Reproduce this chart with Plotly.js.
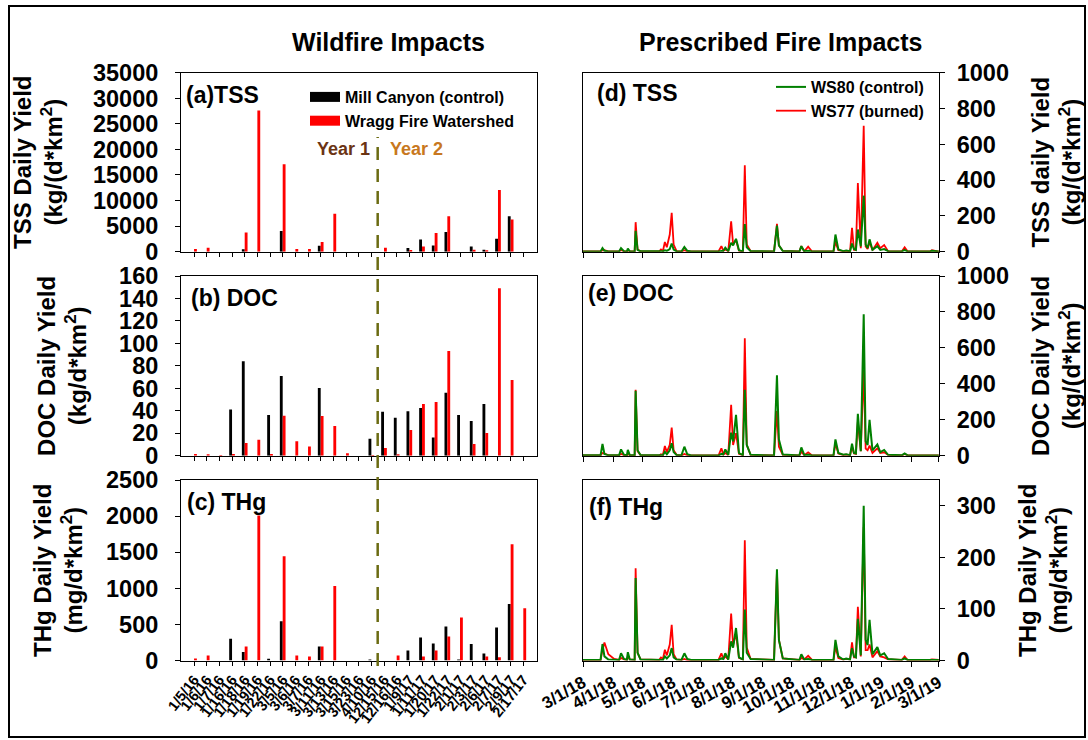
<!DOCTYPE html>
<html><head><meta charset="utf-8">
<script src="https://cdn.plot.ly/plotly-3.0.1.min.js"></script>
<style>
html,body{margin:0;padding:0;background:#fff;}
#wrap{position:relative;width:1088px;height:740px;}
#chart{width:1088px;height:740px;}
#frame{position:absolute;left:8px;top:5px;width:1078px;height:733px;border:2px solid #000;pointer-events:none;box-sizing:border-box;}
</style></head>
<body><div id="wrap"><div id="chart"></div><div id="frame"></div></div>
<script>
// ---------- Wildfire (left) bar data ----------
const sampleDates = ['1/5/16','1/6/16','1/7/16','1/16/16','1/18/16','1/19/16','1/22/16','3/5/16','3/6/16','3/7/16','3/11/16','3/13/16','3/15/16','3/23/16','4/10/16','12/15/16','12/16/16','1/9/17','1/11/17','1/20/17','1/22/17','2/1/17','2/3/17','2/6/17','2/7/17','2/9/17','2/17/17'];
const millTSS  = [0,0,0,0,500,0,0,4030,0,0,1170,0,0,0,0,0,0,710,2400,1230,3830,0,1040,390,2530,6950,0];
const wraggTSS = [520,780,0,0,3770,27600,0,17080,520,520,1880,7400,0,0,0,780,0,320,1040,3640,6950,0,390,260,12080,6300,0];
const millDOC  = [0,0,0,41.2,84,0,36.2,70.9,0,0,60.2,0,0,0,15.1,39.2,33.8,39.5,42.4,16.3,56.1,36.2,30.9,46,0,0,0];
const wraggDOC = [1.5,1.2,0.6,1.5,11.3,14.2,1.5,35.6,12.8,8.3,35.3,26.4,2.1,0,0.6,6.8,1.2,22.8,46,47.8,93.2,0,10.4,20.2,149,67.4,0];
const millTHg  = [0,0,0,301,116,0,23,542,0,0,194,0,0,0,14,0,0,139,319,236,472,14,227,97,458,782,0];
const wraggTHg = [28,69,0,0,194,2009,0,1444,69,56,194,1032,0,0,0,0,69,0,56,139,333,597,0,56,46,1611,722];

// ---------- Prescribed fire (right) time series ----------
const rxDates = ['2018-03-01','2018-03-19','2018-03-21','2018-03-23','2018-03-27','2018-04-02','2018-04-07','2018-04-09','2018-04-12','2018-04-15','2018-04-16','2018-04-18','2018-04-23','2018-04-24','2018-04-26','2018-04-29','2018-05-18','2018-05-20','2018-05-22','2018-05-24','2018-05-26','2018-05-29','2018-05-31','2018-06-02','2018-06-05','2018-06-10','2018-06-13','2018-06-16','2018-06-20','2018-07-18','2018-07-21','2018-07-23','2018-07-25','2018-07-28','2018-07-31','2018-08-02','2018-08-05','2018-08-08','2018-08-12','2018-08-14','2018-08-16','2018-08-20','2018-09-13','2018-09-16','2018-09-18','2018-09-22','2018-10-09','2018-10-11','2018-10-14','2018-10-18','2018-10-22','2018-11-13','2018-11-15','2018-11-18','2018-11-23','2018-11-26','2018-11-30','2018-12-02','2018-12-04','2018-12-06','2018-12-08','2018-12-11','2018-12-14','2018-12-16','2018-12-18','2018-12-20','2018-12-23','2018-12-28','2018-12-31','2019-01-04','2019-01-08','2019-01-22','2019-01-25','2019-01-28','2019-02-20','2019-02-22','2019-03-01'];
const ws80TSS = [1,1,20,5,1,1,1,20,3,1,17,2,1,117,10,2,1,3,2,8,5,15,46,12,2,1,26,5,1,1,5,5,22,3,50,35,72,8,2,154,25,3,1,146,35,4,1,31,2,5,1,1,96,12,3,6,2,46,15,10,124,30,313,40,20,69,10,31,10,15,3,1,10,1,1,5,1];
const ws77TSS = [1,1,8,8,2,1,1,10,2,1,8,2,1,165,12,2,1,13,4,54,25,96,217,40,3,1,8,2,1,1,31,5,12,3,170,40,65,5,2,483,40,3,1,156,35,4,1,31,2,28,1,1,54,8,3,5,2,133,10,10,383,20,704,30,15,54,8,50,20,37,3,1,24,2,1,8,1];
const ws80DOC = [2,2,65,10,2,1,2,35,5,2,32,3,2,361,30,4,1,4,3,22,8,30,69,20,4,2,50,8,1,1,10,8,35,5,128,80,227,15,3,367,60,5,1,448,90,6,1,46,4,5,1,2,91,15,5,8,3,67,15,12,233,25,787,80,60,199,30,63,20,32,5,2,13,2,1,3,1];
const ws77DOC = [2,2,15,10,3,1,1,10,3,1,10,2,2,367,25,3,1,8,4,54,20,60,156,30,5,1,10,3,1,1,41,6,15,4,283,60,125,10,3,653,60,4,1,249,50,5,1,22,3,19,1,1,69,12,4,6,3,50,12,10,190,25,478,40,30,56,15,41,15,19,4,1,10,2,1,3,1];
const ws80THg = [1,1,32,8,2,1,1,14,3,1,16,2,1,160,15,2,1,2,1,8,4,10,24,6,2,1,14,3,1,1,4,3,14,2,37,25,63,6,2,99,15,3,1,177,40,4,1,12,2,3,1,1,40,8,2,4,2,24,8,6,81,10,300,40,30,79,12,26,10,14,3,1,4,1,1,2,1];
const ws77THg = [1,1,20,35,12,3,1,5,2,1,8,2,1,179,15,2,1,6,3,21,10,31,69,12,2,1,3,1,1,1,14,3,8,2,91,30,53,5,2,233,25,3,1,173,40,4,1,5,2,9,1,1,27,5,2,3,2,35,6,6,104,8,259,20,20,31,6,18,8,6,2,1,8,1,1,2,1];

// ---------- layout helpers ----------
const W = 1088, H = 740;
const px = v => v / W;
const py = v => 1 - v / H;
const FAM = 'Liberation Sans, Arial, sans-serif';
const bold = (size, color) => ({family: FAM, size: size, color: color || '#000', weight: 700});

const leftX = [px(181), px(537)];
const rightX = [px(583), px(939)];
const rows = [[72.7, 251.7], [276, 455.7], [480, 660.5]];

function catAxis(anchor, showLabels) {
  return {
    type: 'category', domain: leftX, anchor: anchor,
    range: [-1.03, 27.08], tickmode: 'array', tickvals: sampleDates, ticktext: sampleDates,
    ticks: 'outside', ticklen: 4, tickwidth: 1, tickcolor: '#000',
    showticklabels: showLabels, tickangle: -52, tickfont: bold(14.5),
    showline: true, linecolor: '#000', linewidth: 1, mirror: true,
    showgrid: false, zeroline: false
  };
}
function dateAxis(anchor, showLabels) {
  return {
    type: 'date', domain: rightX, anchor: anchor,
    range: ['2018-03-01', '2019-03-01 06:00'], tick0: '2018-03-01', dtick: 'M1',
    tickformat: '%-m/%-d/%y',
    ticks: 'outside', ticklen: 5, tickwidth: 1, tickcolor: '#000',
    showticklabels: showLabels, tickangle: -30, tickfont: bold(17),
    showline: true, linecolor: '#000', linewidth: 1, mirror: true,
    showgrid: false, zeroline: false
  };
}
function valAxis(anchor, row, range, dtick, side, title, standoff) {
  return {
    domain: [py(row[1]), py(row[0])], anchor: anchor, side: side,
    range: range, dtick: dtick, tick0: 0, tickformat: 'd', exponentformat: 'none',
    ticks: 'outside', ticklen: 5, tickwidth: 1, tickcolor: '#000',
    tickfont: bold(23.5), ticklabelstandoff: side === 'left' ? 12 : 7,
    showline: true, linecolor: '#000', linewidth: 1, mirror: true,
    showgrid: false, zeroline: false,
    title: {text: title, font: bold(24), standoff: standoff}
  };
}

const data = [];
const barPairs = [[millTSS, wraggTSS, 'x', 'y'], [millDOC, wraggDOC, 'x2', 'y2'], [millTHg, wraggTHg, 'x3', 'y3']];
barPairs.forEach(p => {
  data.push({type: 'bar', x: sampleDates, y: p[0], xaxis: p[2], yaxis: p[3], marker: {color: '#000000'}, showlegend: false, name: 'Mill Canyon (control)'});
  data.push({type: 'bar', x: sampleDates, y: p[1], xaxis: p[2], yaxis: p[3], marker: {color: '#ff0000'}, showlegend: false, name: 'Wragg Fire Watershed'});
});
// legend entries for the bar series
data.push({type: 'scatter', mode: 'lines', x: [null], y: [null], xaxis: 'x', yaxis: 'y', line: {color: '#000000', width: 12}, name: 'Mill Canyon (control)', legend: 'legend'});
data.push({type: 'scatter', mode: 'lines', x: [null], y: [null], xaxis: 'x', yaxis: 'y', line: {color: '#ff0000', width: 12}, name: 'Wragg Fire Watershed', legend: 'legend'});

const linePairs = [[ws80TSS, ws77TSS, 'x4', 'y4', true], [ws80DOC, ws77DOC, 'x5', 'y5', false], [ws80THg, ws77THg, 'x6', 'y6', false]];
linePairs.forEach(p => {
  data.push({type: 'scatter', mode: 'lines', x: rxDates, y: p[1], xaxis: p[2], yaxis: p[3], line: {color: '#ff0000', width: 1.8}, name: 'WS77 (burned)', showlegend: p[4], legend: 'legend2', legendrank: 2});
  data.push({type: 'scatter', mode: 'lines', x: rxDates, y: p[0], xaxis: p[2], yaxis: p[3], line: {color: '#008000', width: 2}, name: 'WS80 (control)', showlegend: p[4], legend: 'legend2', legendrank: 1});
});

const layout = {
  width: W, height: H,
  margin: {l: 0, r: 0, t: 0, b: 0},
  paper_bgcolor: '#fff', plot_bgcolor: '#fff',
  font: {family: FAM, color: '#000'},
  barmode: 'group', bargap: 0.55, bargroupgap: 0,
  showlegend: true,
  legend: {x: px(305), y: py(80), xanchor: 'left', yanchor: 'top', bgcolor: 'rgba(0,0,0,0)', font: bold(16), tracegroupgap: 0, itemwidth: 30},
  legend2: {x: px(771), y: py(70), xanchor: 'left', yanchor: 'top', bgcolor: 'rgba(0,0,0,0)', font: bold(16), tracegroupgap: 0, itemwidth: 30},
  xaxis: catAxis('y', false),
  xaxis2: catAxis('y2', false),
  xaxis3: catAxis('y3', true),
  xaxis4: dateAxis('y4', false),
  xaxis5: dateAxis('y5', false),
  xaxis6: dateAxis('y6', true),
  yaxis: valAxis('x', rows[0], [0, 35000], 5000, 'left', 'TSS Daily Yield<br>(kg/(d*km<sup>2</sup>)', 23),
  yaxis2: valAxis('x2', rows[1], [0, 160], 20, 'left', 'DOC Daily Yield<br>(kg/d*km<sup>2</sup>)', 25),
  yaxis3: valAxis('x3', rows[2], [0, 2500], 500, 'left', 'THg Daily Yield<br>(mg/d*km<sup>2</sup>)', 16),
  yaxis4: valAxis('x4', rows[0], [0, 1000], 200, 'right', 'TSS daily Yield<br>(kg/(d*km<sup>2</sup>)', 24),
  yaxis5: valAxis('x5', rows[1], [0, 1000], 200, 'right', 'DOC Daily Yield<br>(kg/(d*km<sup>2</sup>)', 24),
  yaxis6: valAxis('x6', rows[2], [0, 350], 100, 'right', 'THg Daily Yield<br>(mg/d*km<sup>2</sup>)', 24),
  shapes: [
    {type: 'line', xref: 'x', yref: 'paper', x0: 14.5, x1: 14.5, y0: py(666), y1: py(137),
     line: {color: '#6b6b12', width: 2.5, dash: '13px,9px'}}
  ],
  annotations: [
    {text: 'Wildfire Impacts', xref: 'paper', yref: 'paper', x: px(388), y: py(42), xanchor: 'center', yanchor: 'middle', showarrow: false, font: bold(25)},
    {text: 'Prescribed Fire Impacts', xref: 'paper', yref: 'paper', x: px(780), y: py(42), xanchor: 'center', yanchor: 'middle', showarrow: false, font: bold(25)},
    {text: '(a)TSS', xref: 'paper', yref: 'paper', x: px(184), y: py(95), xanchor: 'left', yanchor: 'middle', showarrow: false, font: bold(23)},
    {text: '(b) DOC', xref: 'paper', yref: 'paper', x: px(189), y: py(298), xanchor: 'left', yanchor: 'middle', showarrow: false, font: bold(23)},
    {text: '(c) THg', xref: 'paper', yref: 'paper', x: px(185), y: py(502), xanchor: 'left', yanchor: 'middle', showarrow: false, font: bold(23)},
    {text: '(d) TSS', xref: 'paper', yref: 'paper', x: px(595), y: py(93), xanchor: 'left', yanchor: 'middle', showarrow: false, font: bold(23)},
    {text: '(e) DOC', xref: 'paper', yref: 'paper', x: px(586), y: py(293), xanchor: 'left', yanchor: 'middle', showarrow: false, font: bold(23)},
    {text: '(f) THg', xref: 'paper', yref: 'paper', x: px(587), y: py(507), xanchor: 'left', yanchor: 'middle', showarrow: false, font: bold(23)},
    {text: 'Year 1', xref: 'x', yref: 'paper', x: 14.5, y: py(149), xanchor: 'right', yanchor: 'middle', xshift: -6, showarrow: false, font: bold(18, '#6b3414')},
    {text: 'Year 2', xref: 'x', yref: 'paper', x: 14.5, y: py(149), xanchor: 'left', yanchor: 'middle', xshift: 10, showarrow: false, font: bold(18, '#c87820')}
  ]
};

Plotly.newPlot('chart', data, layout, {staticPlot: true, displayModeBar: false});
</script></body></html>
